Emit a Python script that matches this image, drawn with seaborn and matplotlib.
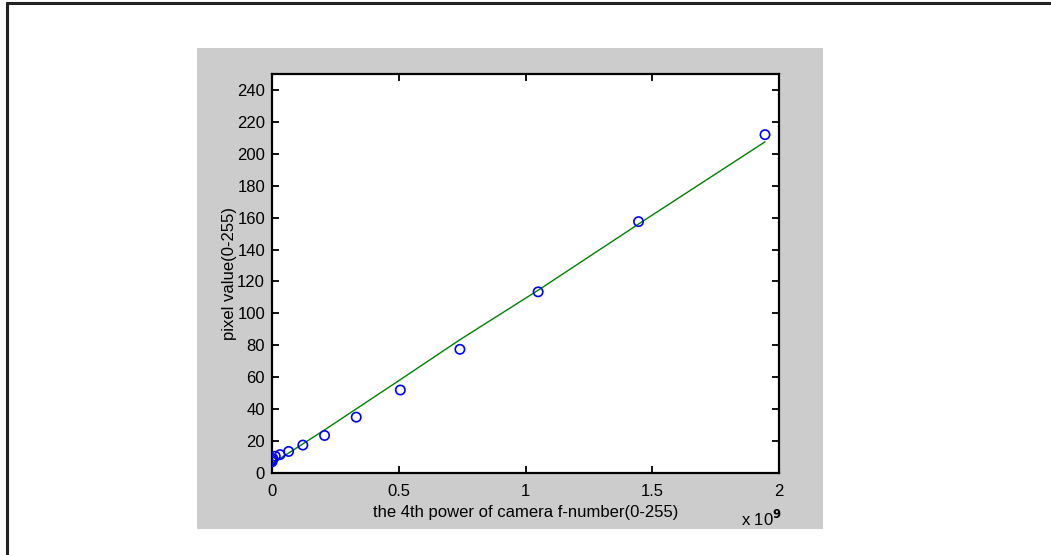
import matplotlib
matplotlib.use("Agg")
import matplotlib.pyplot as plt
import seaborn as sns
import pandas as pd
from matplotlib.patches import Rectangle
from matplotlib.lines import Line2D

# data (x in units of 1e9)
fnum4 = [0.0, 0.0008, 0.0041, 0.0130, 0.0316, 0.0656, 0.1216, 0.2074,
         0.3322, 0.5063, 0.7412, 1.0498, 1.4459, 1.9448]
pixel = [7.0, 8.0, 9.0, 10.5, 11.5, 13.5, 17.5, 23.5,
         35.0, 52.0, 77.5, 113.5, 157.5, 212.0]
fit_x = [0.0, 0.0656, 0.2074, 0.5063, 0.7412, 1.0498, 1.4459, 1.9448]
fit_y = [6.0, 12.5, 27.0, 58.5, 83.5, 114.5, 156.0, 207.5]

yticks = [0, 20, 40, 60, 80, 100, 120, 140, 160, 180, 200, 220, 240]
xticks = [0, 0.5, 1, 1.5, 2]
xticklabels = ["0", "0.5", "1", "1.5", "2"]

W, H = 1051, 555
sns.set_style("ticks")
plt.rcParams['font.family'] = ['Liberation Sans', 'DejaVu Sans']
plt.rcParams['text.color'] = 'black'
plt.rcParams['axes.labelcolor'] = 'black'

fig = plt.figure(figsize=(W / 100, H / 100), dpi=100)
fig.patch.set_facecolor("white")

# grey figure panel
fig.patches.append(Rectangle((197 / W, 1 - 529 / H), (823 - 197) / W, (529 - 48) / H,
                             transform=fig.transFigure, facecolor="#cccccc",
                             edgecolor="none", zorder=-10))
# outer frame (top and left)
fig.lines.append(Line2D([6.5 / W, 6.5 / W], [0, 1 - 2.5 / H], transform=fig.transFigure,
                        color="#222222", lw=2.2, zorder=-5))
fig.lines.append(Line2D([6.5 / W, 1], [1 - 2.5 / H, 1 - 2.5 / H], transform=fig.transFigure,
                        color="#222222", lw=2.2, zorder=-5))

ax = fig.add_axes([272 / W, 1 - 473 / H, (779 - 272) / W, (473 - 74) / H])
ax.set_zorder(5)
ax.set_facecolor("white")

df_fit = pd.DataFrame({"x": fit_x, "y": fit_y})
df_pts = pd.DataFrame({"x": fnum4, "y": pixel})
sns.lineplot(data=df_fit, x="x", y="y", ax=ax, color="#008000", lw=1.0,
             estimator=None, sort=False, zorder=2)
sns.scatterplot(data=df_pts, x="x", y="y", ax=ax, marker="o", s=45,
                facecolor="none", edgecolor="#0000ff", linewidth=1.2, zorder=3)

ax.set_xlim(0, 2)
ax.set_ylim(0, 250)
ax.set_xticks(xticks)
ax.set_xticklabels(xticklabels)
ax.set_yticks(yticks)
ax.set_yticklabels([str(v) for v in yticks])
for s in ax.spines.values():
    s.set_visible(True)
    s.set_linewidth(1.6)
    s.set_color("black")
ax.tick_params(direction="in", length=5, width=1.3, top=True, right=True,
               labelsize=12, colors="black", labelcolor="black")
ax.tick_params(axis="x", pad=8)
ax.tick_params(axis="y", pad=5)

ax.set_xlabel("the 4th power of camera f-number(0-255)", fontsize=12, labelpad=4,
              color="black")
ax.set_ylabel("pixel value(0-255)", fontsize=12, labelpad=0, color="black")

fig.text(741 / W, 1 - 519 / H, r"x 10$^{\mathbf{9}}$", fontsize=12, va="center", ha="left",
         color="black")

fig.savefig("out.png", dpi=100, facecolor="white")
